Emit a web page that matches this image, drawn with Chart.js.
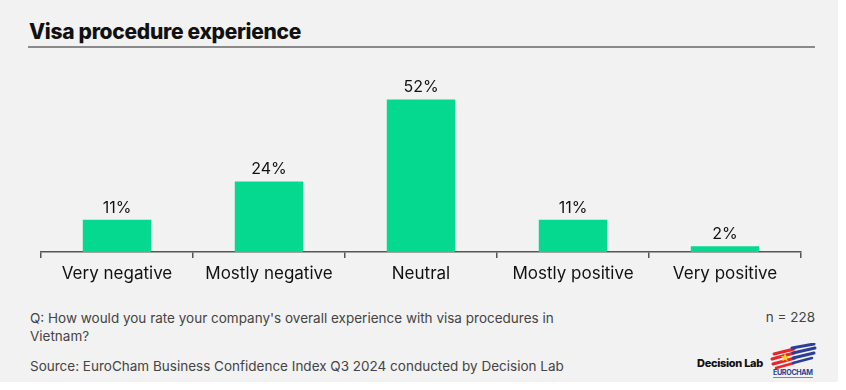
<!DOCTYPE html>
<html><head><meta charset="utf-8">
<script src="https://cdn.jsdelivr.net/npm/chart.js@4"></script>
<style>
html,body{margin:0;padding:0;background:#fff;}
#wrap{position:absolute;left:0;top:0;width:838px;height:382px;background:#f2f2f2;font-family:Inter,"Open Sans",sans-serif;}
#title{position:absolute;left:29px;top:19px;font-size:21px;font-weight:800;color:#111;letter-spacing:-0.3px;}
#rule{position:absolute;left:28px;top:46px;width:787px;height:2px;background:#8a8a8a;}
#cv{position:absolute;left:31px;top:76px;width:780px;height:224px;}
.ft{position:absolute;font-size:13.5px;color:#444;}
#q{left:30px;top:309px;width:580px;line-height:18px;}
#n{right:23px;top:309px;}
#src{left:30px;top:358px;}
#dl{position:absolute;left:697px;top:356px;font-size:11px;font-weight:800;color:#111;letter-spacing:-0.3px;}
#logo{position:absolute;left:768px;top:343px;}
</style></head><body>
<div id="wrap">
<div id="title">Visa procedure experience</div>
<div id="rule"></div>
<div id="cv"><canvas id="c" width="780" height="224"></canvas></div>
<div class="ft" id="q">Q: How would you rate your company's overall experience with visa procedures in<br>Vietnam?</div>
<div class="ft" id="n">n = 228</div>
<div class="ft" id="src">Source: EuroCham Business Confidence Index Q3 2024 conducted by Decision Lab</div>
<div id="dl">Decision Lab</div>
<svg id="logo" width="50" height="38" viewBox="0 0 50 38">
<g stroke-linecap="round">
<path d="M6 11 L26 6" stroke="#e8242a" stroke-width="3"/>
<path d="M4 16 L26 10" stroke="#e8242a" stroke-width="3"/>
<path d="M5 21 L27 15" stroke="#e8242a" stroke-width="3"/>
<path d="M8 25 L26 20" stroke="#e8242a" stroke-width="2.5"/>
<path d="M24 5 L46 1" stroke="#2a3f9c" stroke-width="3"/>
<path d="M25 10 L47 5" stroke="#2a3f9c" stroke-width="3"/>
<path d="M25 15 L46 10" stroke="#2a3f9c" stroke-width="3"/>
<path d="M25 20 L44 15" stroke="#2a3f9c" stroke-width="2.5"/>
</g>
<polygon points="17,10 18.2,13.3 21.5,13.3 18.8,15.3 19.8,18.5 17,16.6 14.2,18.5 15.2,15.3 12.5,13.3 15.8,13.3" fill="#ffd21f"/>
<text x="5" y="32" font-size="7.2" font-weight="700" fill="#2a3f9c" font-family="Inter,sans-serif" textLength="40">EUROCHAM</text>
<rect x="5" y="34" width="40" height="1" fill="#7a86b8"/>
</svg>
</div>
<script>
const categories = ["Very negative","Mostly negative","Neutral","Mostly positive","Very positive"];
const shares = [11,24,52,11,2];
const valueLabels = ["11%","24%","52%","11%","2%"];

const labelPlugin = {
  id:'vlabels',
  afterDatasetsDraw(chart){
    const ctx = chart.ctx;
    const meta = chart.getDatasetMeta(0);
    ctx.save();
    ctx.font = '16px Inter, "Open Sans", sans-serif';
    ctx.fillStyle = '#111';
    ctx.textAlign = 'center';
    ctx.textBaseline = 'bottom';
    meta.data.forEach((bar,i)=>{
      ctx.fillText(valueLabels[i], bar.x, bar.y - 4);
    });
    ctx.restore();
  }
};

new Chart(document.getElementById('c'), {
  type:'bar',
  data:{labels:categories, datasets:[{data:shares, backgroundColor:'#04d98f', borderWidth:0, barPercentage:0.9, categoryPercentage:0.5}]},
  options:{
    responsive:false, animation:false,
    layout:{padding:{left:10,right:10,top:0,bottom:0}},
    plugins:{legend:{display:false}, tooltip:{enabled:false}},
    scales:{
      x:{
        afterFit(s){ s.height = 48; },
        grid:{offset:true, drawOnChartArea:false, drawTicks:true, tickLength:6, color:'#555', lineWidth:1.5},
        border:{display:true, color:'#555', width:1.5},
        ticks:{color:'#111', font:{size:17, family:'Inter, "Open Sans", sans-serif'}, padding:6, maxRotation:0, autoSkip:false}
      },
      y:{display:false, min:0, max:60}
    }
  },
  plugins:[labelPlugin]
});
</script>
</body></html>
